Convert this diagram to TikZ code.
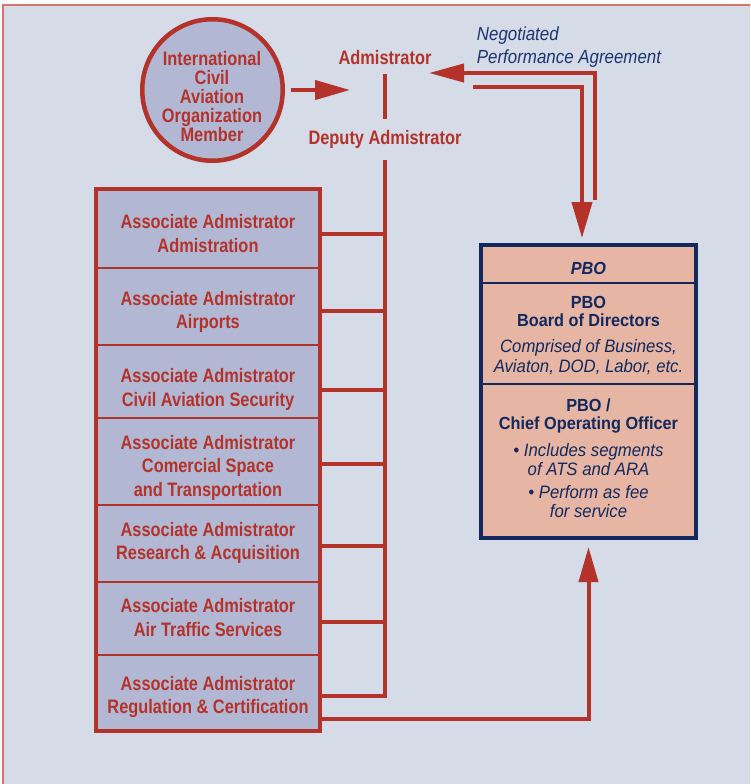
\documentclass[tikz,border=0pt]{standalone}
\usepackage{fontspec}
\setmainfont{Liberation Sans}
\newfontfamily\redf{Liberation Sans}[FakeStretch=0.84]
\newfontfamily\navf{Liberation Sans}[FakeStretch=0.93]
\newfontfamily\negf{Liberation Sans}[FakeStretch=0.89]
\usetikzlibrary{arrows.meta,shapes.geometric}
\definecolor{bg}{HTML}{D5DBE7}
\definecolor{fr}{HTML}{B3332A}
\definecolor{nv}{HTML}{12295E}
\definecolor{negc}{HTML}{1E3470}
\definecolor{boxf}{HTML}{B2B8D4}
\definecolor{pbof}{HTML}{E7B5A3}
\definecolor{edgec}{HTML}{D6756E}
\begin{document}
\begin{tikzpicture}[x=1pt,y=-1pt,
  conn/.style={draw=fr, line width=4pt},
  bigtip/.style={-{Triangle[length=35pt,width=19pt]}},
  redtxt/.style={text=fr, font=\redf\bfseries\fontsize{19.5}{23.5}\selectfont, align=center, inner sep=0pt, text depth=0pt},
  assoc/.style={draw=fr, line width=2.5pt, fill=boxf, minimum width=224pt, inner sep=0pt, outer sep=0pt},
  pbosec/.style={draw=nv, line width=2pt, fill=pbof, minimum width=215pt, inner sep=0pt, outer sep=0pt},
  navbold/.style={text=nv, font=\navf\bfseries\fontsize{17.5}{17.8}\selectfont, align=center, inner sep=0pt, text depth=0pt},
  navit/.style={text=nv, font=\navf\itshape\fontsize{18}{20}\selectfont, align=center, inner sep=0pt, text depth=0pt}
]
\useasboundingbox (0,0) rectangle (750,784);
\clip (0,0) rectangle (750,784);
\fill[white] (0,0) rectangle (750,784);
\draw[edgec, line width=1.5pt, fill=bg] (3,5) rectangle (770,800);

% ICAO ellipse
\node[ellipse, draw=fr, line width=4.5pt, fill=boxf, minimum width=140.5pt, minimum height=141.5pt, inner sep=0pt, outer sep=0pt] (icao) at (212.5,90) {};
\node[redtxt, font=\redf\bfseries\fontsize{19.5}{19}\selectfont] (icaot) at (212,96) {International\\Civil\\Aviation\\Organization\\Member};

% Administrator
\node[redtxt, inner sep=9.5pt] (adm) at (385,57) {Admistrator};
\node[redtxt, inner sep=11pt] (dep) at (385,137) {Deputy Admistrator};

% Negotiated text
\node[text=negc, font=\negf\itshape\fontsize{19}{23.3}\selectfont, align=left, anchor=west, inner sep=0pt, text depth=0pt] (neg) at (476.7,45) {Negotiated\\Performance Agreement};

% Associate boxes
\node[assoc, minimum height=79pt] (b1) at (208,228.5) {};
\node[assoc, minimum height=77pt] (b2) at (208,306.5) {};
\node[assoc, minimum height=73pt] (b3) at (208,381.5) {};
\node[assoc, minimum height=87pt] (b4) at (208,461.5) {};
\node[assoc, minimum height=77pt] (b5) at (208,543.5) {};
\node[assoc, minimum height=73pt] (b6) at (208,618.5) {};
\node[assoc, minimum height=76pt] (b7) at (208,693) {};
\draw[fr, line width=4.5pt] (b1.north west) rectangle (b7.south east);

\node[redtxt] (t1) at (208,233.3) {Associate Admistrator\\Admistration};
\node[redtxt] (t2) at (208,310) {Associate Admistrator\\Airports};
\node[redtxt] (t3) at (208,387.2) {Associate Admistrator\\Civil Aviation Security};
\node[redtxt] (t4) at (208,465.5) {Associate Admistrator\\Comercial Space\\and Transportation};
\node[redtxt] (t5) at (208,541) {Associate Admistrator\\Research \& Acquisition};
\node[redtxt] (t6) at (208,617.5) {Associate Admistrator\\Air Traffic Services};
\node[redtxt] (t7) at (208,695) {Associate Admistrator\\Regulation \& Certification};

% PBO box
\node[pbosec, minimum height=38pt] (p1) at (588.5,264) {};
\node[pbosec, minimum height=101pt] (p2) at (588.5,333.5) {};
\node[pbosec, minimum height=154pt] (p3) at (588.5,461) {};
\draw[nv, line width=4.5pt] (p1.north west) rectangle (p3.south east);

\node[navbold, font=\navf\bfseries\itshape\fontsize{17.5}{17.8}\selectfont] (pt1) at (588.5,268.3) {PBO};
\node[navbold] (pt2) at (588.5,311) {PBO\\Board of Directors};
\node[navit] (pt3) at (588.5,356.3) {Comprised of Business,\\Aviaton, DOD, Labor, etc.};
\node[navbold, font=\navf\bfseries\fontsize{17.5}{18}\selectfont] (pt4) at (588.5,414.3) {PBO /\\Chief Operating Officer};
\node[navit, font=\navf\itshape\fontsize{18}{18.7}\selectfont] (pt5) at (588.5,480.5) {• Includes segments\\of ATS and ARA\\[4.3pt]• Perform as fee\\for service};

% Connectors
\coordinate (ictip) at (350,90);
\draw[conn, bigtip, shorten <=8pt] (icao.east) -- (ictip);
\draw[fr, line width=3.5pt] (adm.south) -- (dep.north);

\coordinate (sp0) at ([yshift=-5pt]dep.south);
\coordinate (s1) at ([yshift=-5.5pt]b1.east);
\coordinate (s2) at ([yshift=-4.5pt]b2.east);
\coordinate (s3) at ([yshift=-8.5pt]b3.east);
\coordinate (s4) at ([yshift=-2.5pt]b4.east);
\coordinate (s5) at ([yshift=-2.5pt]b5.east);
\coordinate (s6) at ([yshift=-3.5pt]b6.east);
\coordinate (s7) at ([yshift=-3pt]b7.east);
\coordinate (s8) at ([yshift=-26pt]b7.east);
\draw[conn] (sp0) |- (s7);
\foreach \s in {s1,s2,s3,s4,s5,s6}{
  \draw[conn] (\s) -- (\s -| sp0);
}
\draw[conn, -{Triangle[length=35pt,width=19pt]}, shorten >=9pt] (s8) -| (p3.south);

% Negotiated performance agreement arrows
\coordinate (na) at (595,200);
\coordinate (natip) at (429,73);
\coordinate (nb) at (473,87);
\coordinate (nbtip) at (582,238);
\draw[conn, -{Triangle[length=35pt,width=18pt]}] (na) |- (natip);
\draw[conn, -{Triangle[length=36pt,width=20pt]}] (nb) -| (nbtip);
\end{tikzpicture}
\end{document}
